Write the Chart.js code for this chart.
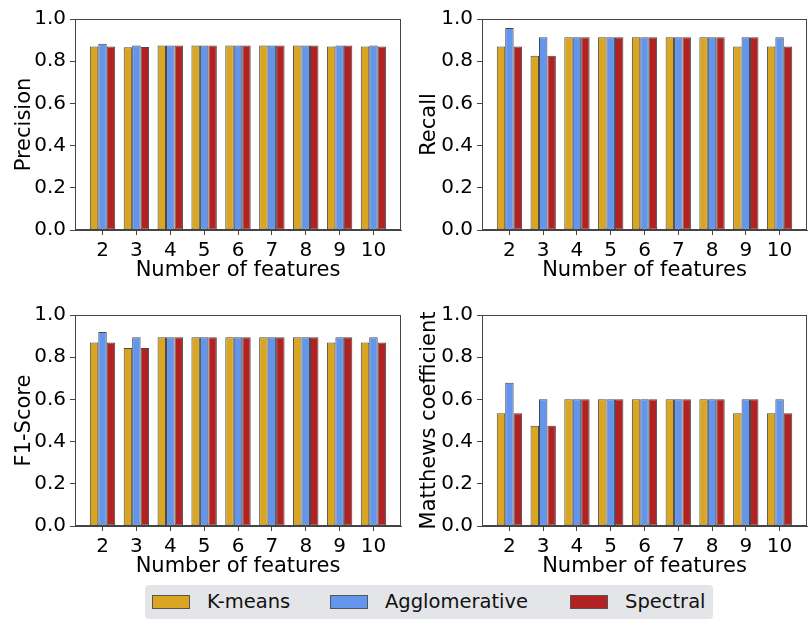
<!DOCTYPE html>
<html>
<head>
<meta charset="utf-8">
<script src="https://cdn.jsdelivr.net/npm/chart.js@4.4.1/dist/chart.umd.min.js"></script>
<style>
  html, body { margin:0; padding:0; background:#fff; }
  #wrap { position:relative; width:811px; height:619px; overflow:hidden; font-family:"DejaVu Sans", sans-serif; }
  canvas { position:absolute; }
  #legend { position:absolute; left:145px; top:585px; width:568px; height:34px; background:#e3e5e8; border-radius:4px; }
  .patch { position:absolute; top:10px; width:38px; height:14px; box-sizing:border-box; border:1px solid #555; }
  .lab { position:absolute; top:4px; font-size:19.5px; line-height:26px; color:#111; white-space:nowrap; }
</style>
</head>
<body>
<div id="wrap">
  <canvas id="c1" width="405" height="290" style="left:0;top:0;width:405px;height:290px"></canvas>
  <canvas id="c2" width="406" height="290" style="left:405px;top:0;width:406px;height:290px"></canvas>
  <canvas id="c3" width="405" height="290" style="left:0;top:295px;width:405px;height:290px"></canvas>
  <canvas id="c4" width="406" height="290" style="left:405px;top:295px;width:406px;height:290px"></canvas>
  <div id="legend"></div>
</div>
<script>
// ---- data ----
const features = [2, 3, 4, 5, 6, 7, 8, 9, 10];
const seriesNames = ["K-means", "Agglomerative", "Spectral"];
const seriesColors = ["#DAA520", "#6495ED", "#B22222"];
const yTicks = [0.0, 0.2, 0.4, 0.6, 0.8, 1.0];

const precisionKmeans = [0.870, 0.866, 0.875, 0.875, 0.875, 0.875, 0.875, 0.870, 0.870];
const precisionAgglo  = [0.883, 0.875, 0.875, 0.875, 0.875, 0.875, 0.875, 0.875, 0.875];
const precisionSpec   = [0.870, 0.867, 0.875, 0.875, 0.875, 0.875, 0.875, 0.875, 0.870];

const recallKmeans = [0.870, 0.826, 0.913, 0.913, 0.913, 0.913, 0.913, 0.870, 0.870];
const recallAgglo  = [0.957, 0.913, 0.913, 0.913, 0.913, 0.913, 0.913, 0.913, 0.913];
const recallSpec   = [0.870, 0.826, 0.913, 0.913, 0.913, 0.913, 0.913, 0.913, 0.870];

const f1Kmeans = [0.870, 0.844, 0.894, 0.894, 0.894, 0.894, 0.894, 0.870, 0.870];
const f1Agglo  = [0.919, 0.894, 0.894, 0.894, 0.894, 0.894, 0.894, 0.894, 0.894];
const f1Spec   = [0.870, 0.844, 0.894, 0.894, 0.894, 0.894, 0.894, 0.894, 0.870];

const mccKmeans = [0.534, 0.475, 0.601, 0.601, 0.601, 0.601, 0.601, 0.534, 0.534];
const mccAgglo  = [0.679, 0.601, 0.601, 0.601, 0.601, 0.601, 0.601, 0.601, 0.601];
const mccSpec   = [0.534, 0.475, 0.601, 0.601, 0.601, 0.601, 0.601, 0.601, 0.534];

const xTitle = "Number of features";

// ---- drawing ----
const FONT = "'DejaVu Sans', sans-serif";
const FS = 20;
const TFS = 21;

const framePlugin = {
  id: 'frame',
  afterDraw(chart) {
    const a = chart.chartArea, ctx = chart.ctx;
    ctx.save();
    ctx.strokeStyle = '#444';
    ctx.lineWidth = 1;
    ctx.strokeRect(Math.round(a.left) + 0.5, Math.round(a.top) + 0.5,
                   Math.round(a.right - a.left) - 1, Math.round(a.bottom - a.top) - 1);
    ctx.restore();
  }
};

function makeChart(id, yTitle, vals, yWidth, topPad, yTitlePad) {
  const datasets = vals.map((arr, i) => ({
    label: seriesNames[i],
    data: features.map((f, j) => ({ x: f, y: arr[j] })),
    backgroundColor: seriesColors[i],
    borderColor: 'rgba(40,40,40,0.85)',
    borderWidth: 1,
    borderSkipped: false,
    categoryPercentage: 0.75,
    barPercentage: 1.0
  }));
  const xTitlePadBottom = 290 - (271 + topPad - 19) - TFS * 1.2 / 2;
  return new Chart(document.getElementById(id), {
    type: 'bar',
    data: { datasets },
    plugins: [framePlugin],
    options: {
      responsive: false,
      animation: false,
      events: [],
      layout: { padding: { top: topPad, right: 4, left: 0, bottom: 0 } },
      plugins: { legend: { display: false }, tooltip: { enabled: false } },
      scales: {
        x: {
          type: 'linear',
          offset: false,
          min: features[0] - 0.8125,
          max: features[features.length - 1] + 0.8125,
          afterBuildTicks(scale) { scale.ticks = features.map(v => ({ value: v })); },
          afterFit(scale) { scale.height = 290 - 230 - topPad + 19; },
          ticks: { color: '#000', font: { family: FONT, size: FS }, padding: 4, maxRotation: 0, autoSkip: false },
          grid: { display: true, offset: false, drawOnChartArea: false, drawTicks: true, tickLength: 5, color: '#444' },
          border: { display: true, color: '#444' },
          title: { display: true, text: xTitle, color: '#000', font: { family: FONT, size: TFS }, padding: { top: 0, bottom: xTitlePadBottom } }
        },
        y: {
          min: 0, max: 1,
          afterBuildTicks(scale) { scale.ticks = yTicks.map(v => ({ value: v })); },
          afterFit(scale) { scale.width = yWidth; },
          ticks: { color: '#000', font: { family: FONT, size: FS }, padding: 4, callback: v => Number(v).toFixed(1) },
          grid: { display: true, drawOnChartArea: false, drawTicks: true, tickLength: 5, color: '#444' },
          border: { display: true, color: '#444' },
          title: { display: true, text: yTitle, color: '#000', font: { family: FONT, size: TFS }, padding: { top: yTitlePad, bottom: 0 } }
        }
      }
    }
  });
}

makeChart('c1', 'Precision', [precisionKmeans, precisionAgglo, precisionSpec], 75, 19, 12.4);
makeChart('c2', 'Recall', [recallKmeans, recallAgglo, recallSpec], 77, 19, 12.1);
makeChart('c3', 'F1-Score', [f1Kmeans, f1Agglo, f1Spec], 75, 20, 12.4);
makeChart('c4', 'Matthews coefficient', [mccKmeans, mccAgglo, mccSpec], 77, 20, 12.1);

// legend
const lg = document.getElementById('legend');
const patchX = [7, 185, 425];
const textX = [62, 240, 480];
seriesNames.forEach((n, i) => {
  const p = document.createElement('div');
  p.className = 'patch';
  p.style.left = patchX[i] + 'px';
  p.style.background = seriesColors[i];
  lg.appendChild(p);
  const t = document.createElement('div');
  t.className = 'lab';
  t.style.left = textX[i] + 'px';
  t.textContent = n;
  lg.appendChild(t);
});
</script>
</body>
</html>
